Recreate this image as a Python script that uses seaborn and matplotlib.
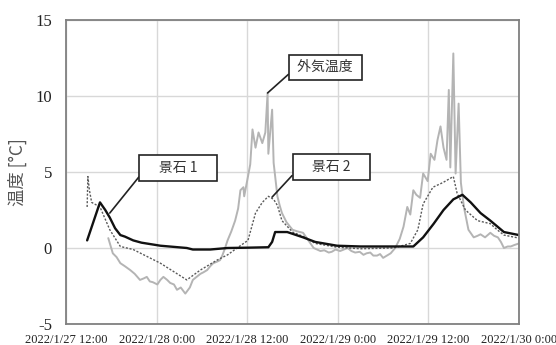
import numpy as np
import pandas as pd
import matplotlib
matplotlib.use("Agg")
import matplotlib.pyplot as plt
import seaborn as sns

# ---------------- data (hours since 2022/1/27 12:00) ----------------
start = pd.Timestamp("2022-01-27 12:00")

stone1_h = [2.8, 4.5, 5.2, 5.8, 6.5, 7.2, 7.8, 8.9, 10.0, 12.5, 16.0, 16.8, 19.1, 21.4,
            24.0, 26.8, 27.3, 27.7, 29.3, 31.4, 33.0, 35.9, 39.0, 43.0, 46.0, 47.3,
            48.7, 50.0, 51.3, 52.5, 53.6, 54.9, 56.2, 58.0, 60.0]
stone1_t = [0.5, 3.0, 2.5, 2.0, 1.3, 0.85, 0.75, 0.5, 0.35, 0.15, 0.0, -0.1, -0.1, 0.0,
            0.02, 0.05, 0.4, 1.05, 1.05, 0.7, 0.4, 0.15, 0.1, 0.1, 0.1, 0.7,
            1.6, 2.5, 3.2, 3.5, 3.0, 2.3, 1.8, 1.05, 0.85]

stone2_h = [2.8, 2.9, 3.1, 3.4, 4.5, 5.8, 7.2, 8.9, 12.5, 16.0, 17.8, 20.0, 21.4, 22.8,
            24.1, 25.1, 26.0, 26.8, 27.5, 28.0, 28.6, 30.0, 31.7, 33.0, 35.9, 39.0,
            43.4, 45.6, 46.6, 47.3, 48.6, 49.9, 51.3, 51.8, 52.9, 54.5, 56.2, 57.1,
            58.0, 60.0]
stone2_t = [2.7, 4.7, 3.8, 3.0, 2.7, 1.2, 0.1, -0.1, -1.0, -2.1, -1.45, -0.8, -0.45, 0.05,
            0.5, 2.3, 3.0, 3.4, 3.2, 2.8, 1.8, 1.05, 0.7, 0.3, 0.05, -0.05,
            0.0, 0.3, 1.2, 2.9, 4.0, 4.3, 4.7, 3.6, 2.5, 1.8, 1.6, 1.2,
            0.85, 0.65]

outdoor_h = [5.6, 6.2, 6.7, 7.2, 7.8, 8.5, 9.1, 9.8, 10.3, 10.7, 11.1, 11.5, 12.1, 12.5,
             12.9, 13.4, 13.8, 14.3, 14.7, 15.2, 15.8, 16.1, 16.4, 16.8, 17.3, 17.8,
             18.2, 18.7, 19.1, 19.5, 20.0, 20.4, 20.7, 21.0, 21.4, 21.9, 22.4, 22.8,
             23.1, 23.5, 23.6, 24.1, 24.4, 24.7, 25.1, 25.5, 26.0, 26.4, 26.7, 26.8,
             27.3, 27.5, 28.0, 28.3, 28.6, 29.2, 30.0, 30.6, 31.4, 32.1, 32.8, 33.7,
             34.2, 34.8, 35.2, 35.7, 36.3, 37.3, 37.8, 38.3, 38.9, 39.4, 39.8, 40.3,
             40.7, 41.2, 41.6, 42.0, 42.5, 43.0, 43.6, 44.2, 44.7, 45.2, 45.6, 46.0,
             46.4, 46.9, 47.3, 47.9, 48.3, 48.8, 49.2, 49.6, 50.0, 50.4, 50.7, 50.9,
             51.3, 51.6, 52.0, 52.3, 52.7, 53.3, 54.0, 54.5, 54.9, 55.5, 56.2, 56.7,
             57.2, 57.6, 58.0, 58.5, 58.9, 59.4, 60.0]
outdoor_t = [0.65, -0.35, -0.6, -1.0, -1.2, -1.45, -1.7, -2.1, -2.0, -1.9, -2.2, -2.25,
             -2.4, -2.1, -1.9, -2.1, -2.3, -2.4, -2.75, -2.6, -3.0, -2.8, -2.6,
             -2.1, -1.9, -1.7, -1.6, -1.45, -1.2, -1.0, -0.9, -0.8, -0.5, -0.1, 0.5,
             1.1, 1.8, 2.6, 3.8, 4.0, 3.4, 4.7, 5.5, 7.8, 6.6, 7.6, 6.9, 7.6, 10.2,
             6.2, 9.1, 5.6, 3.4, 2.8, 2.3, 1.7, 1.2, 1.1, 1.0, 0.5, 0.0, -0.2,
             -0.15, -0.3, -0.25, -0.1, -0.2, 0.0, -0.2, -0.3, -0.25, -0.45, -0.35,
             -0.3, -0.5, -0.5, -0.4, -0.65, -0.5, -0.35, 0.0, 0.6, 1.4, 2.7, 2.2,
             3.8, 3.5, 3.3, 4.9, 4.4, 6.2, 5.8, 7.1, 8.0, 6.6, 5.8, 10.4, 5.3,
             12.8, 4.9, 9.5, 4.3, 2.7, 1.2, 0.7, 0.8, 0.9, 0.7, 1.0, 0.8,
             0.7, 0.4, 0.0, 0.1, 0.1, 0.2, 0.3]

tick_hours = [0, 12, 24, 36, 48, 60]
tick_labels = ["2022/1/27 12:00", "2022/1/28 0:00", "2022/1/28 12:00",
               "2022/1/29 0:00", "2022/1/29 12:00", "2022/1/30 0:00"]
y_ticks = [-5, 0, 5, 10, 15]

def to_time(hours):
    return [start + pd.Timedelta(hours=h) for h in hours]

df_s1 = pd.DataFrame({"time": to_time(stone1_h), "temp": stone1_t})
df_s2 = pd.DataFrame({"time": to_time(stone2_h), "temp": stone2_t})
df_out = pd.DataFrame({"time": to_time(outdoor_h), "temp": outdoor_t})

# ---------------- plot ----------------
sns.set_style("white")
plt.rcParams['font.family'] = ['Liberation Serif', 'Noto Sans CJK JP']

fig = plt.figure(figsize=(5.56, 3.45), dpi=100)
ax = fig.add_axes([0.1187, 0.0609, 0.8148, 0.8811])

sns.lineplot(data=df_out, x="time", y="temp", ax=ax, color="#b4b4b4", lw=1.4)
sns.lineplot(data=df_s2, x="time", y="temp", ax=ax, color="#5a5a5a", lw=1.0,
             linestyle=(0, (1.5, 1.2)))
sns.lineplot(data=df_s1, x="time", y="temp", ax=ax, color="#111111", lw=1.7)

ax.set_xlim(start, start + pd.Timedelta(hours=60))
ax.set_ylim(-5, 15)
ax.set_xticks(to_time(tick_hours))
ax.set_xticklabels(tick_labels, fontsize=9, color="#222222", family="Liberation Serif")
ax.set_yticks(y_ticks)
ax.set_yticklabels([str(v) for v in y_ticks], fontsize=12, color="#222222",
                   family="Liberation Serif")
ax.tick_params(axis="both", length=0)
ax.tick_params(axis="y", pad=10)
ax.tick_params(axis="x", pad=7)
ax.grid(True, color="#d8d8d8", lw=1.0)
ax.set_axisbelow(True)
for s in ax.spines.values():
    s.set_color("#808080")
    s.set_linewidth(1.3)

ax.set_xlabel("")
ax.set_ylabel("温度 [°C]", fontsize=12.5, color="#555555",
              family=["Noto Sans CJK JP", "DejaVu Sans"], labelpad=6)

jp = ["Noto Sans CJK JP", "DejaVu Sans"]
box = dict(boxstyle="square,pad=0.4", fc="white", ec="#222222", lw=1.2)

def note(text, xy_h, xy_t, txt_h, txt_t, rel):
    ax.annotate(text, xy=(start + pd.Timedelta(hours=xy_h), xy_t),
                xytext=(start + pd.Timedelta(hours=txt_h), txt_t),
                ha="center", va="center", fontsize=10, family=jp, color="#333333",
                bbox=box,
                arrowprops=dict(arrowstyle="-", color="#222222", lw=1.2,
                                shrinkA=0, shrinkB=0, relpos=rel))

note("\u3000景石 1\u3000", 5.8, 2.3, 14.85, 5.26, (0, 0.4))
note(" 外気温度 ", 26.7, 10.2, 34.35, 11.9, (0, 0.37))
note("\u3000景石 2\u3000", 27.3, 3.35, 35.15, 5.33, (0, 0.36))

fig.savefig("out.png", dpi=100)
